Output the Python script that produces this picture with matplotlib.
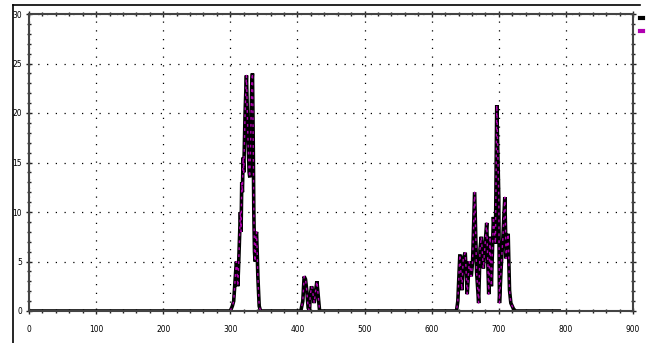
import matplotlib.pyplot as plt
from matplotlib.lines import Line2D
from matplotlib.ticker import MultipleLocator

# Baseline ends plus three clusters of peaks
start_x = [0, 300]
start_y = [0, 0]

cluster1_x = [303, 305, 307, 309, 310, 311, 312, 314, 315, 316, 317, 318, 319, 320,
              321, 322, 323, 324, 325, 326, 327, 328, 329, 330, 331, 332, 333, 334,
              335, 336, 337, 338, 339, 340, 341, 342, 343, 345]
cluster1_y = [0.5, 1, 3, 5, 4.5, 2.5, 4, 8, 10, 8, 13, 12, 15.5, 14,
              17, 20, 22, 23.8, 21, 18, 16, 14, 13.5, 16, 20, 23, 24, 18,
              10, 6, 5, 7.5, 8, 6, 3.5, 2, 0.5, 0]

cluster2_x = [405, 408, 410, 412, 414, 416, 418, 419, 421, 423, 425, 427, 429, 431, 433]
cluster2_y = [0, 1, 3.5, 3.2, 2, 0.3, 0, 1.5, 2.5, 1.8, 0.8, 2, 3, 1.5, 0]

cluster3_x = [637, 639, 642, 645, 647, 650, 653, 656, 659, 661, 664, 667, 670, 672,
              674, 677, 679, 682, 685, 687, 689, 692, 695, 697, 700, 701, 704, 706,
              709, 711, 714, 716, 718, 722, 725]
cluster3_y = [0, 1, 5.7, 2.1, 5.3, 5.9, 1.7, 5, 3.5, 5, 12, 3.9, 0.8, 6.2,
              7.5, 4.3, 6.2, 8.9, 1.7, 7.5, 2.5, 9.5, 6.8, 20.8, 11.5, 0.8, 5, 7.2,
              11.5, 5.3, 7.8, 2.1, 0.8, 0.2, 0]

end_x = [790]
end_y = [0]

xs = start_x + cluster1_x + cluster2_x + cluster3_x + end_x
ys = start_y + cluster1_y + cluster2_y + cluster3_y + end_y

fig = plt.figure(figsize=(6.48, 3.43), dpi=100)
ax = fig.add_axes([29 / 648, 32 / 343, 604 / 648, 297 / 343])

ax.plot(xs, ys, color="black", lw=2.6, solid_joinstyle="miter")
ax.plot(xs, ys, color="#b000b0", lw=1.0, ls=(0, (2, 3)))

ax.set_xlim(0, 900)
ax.set_ylim(0, 30)
ax.xaxis.set_major_locator(MultipleLocator(100))
ax.xaxis.set_minor_locator(MultipleLocator(20))
ax.yaxis.set_major_locator(MultipleLocator(5))
ax.yaxis.set_minor_locator(MultipleLocator(1))
ax.tick_params(which="both", direction="inout", top=True, right=True,
               color="#222222", labelsize=6)
ax.tick_params(which="major", length=4, width=1)
ax.tick_params(which="minor", length=3, width=1)
ax.tick_params(axis="x", pad=8)
ax.tick_params(axis="y", pad=3)
for lab in ax.get_xticklabels() + ax.get_yticklabels():
    lab.set_fontstretch("condensed")

ax.grid(True, which="major", color="black", ls=(0, (1, 6)), lw=0.9)
for s in ax.spines.values():
    s.set_color("#444444")
    s.set_linewidth(1.5)

# outer frame and the clipped legend marks on the right
fig.add_artist(Line2D([13 / 648, 640 / 648], [1 - 5 / 343, 1 - 5 / 343],
                      color="black", lw=1.2, transform=fig.transFigure))
fig.add_artist(Line2D([13 / 648, 13 / 648], [0, 1 - 5 / 343],
                      color="black", lw=1.2, transform=fig.transFigure))
fig.add_artist(Line2D([640 / 648, 643 / 648], [1 - 18 / 343, 1 - 18 / 343],
                      color="black", lw=3, transform=fig.transFigure))
fig.add_artist(Line2D([640 / 648, 643 / 648], [1 - 31 / 343, 1 - 31 / 343],
                      color="#b000b0", lw=3, transform=fig.transFigure))

fig.savefig("out.png", dpi=100)
